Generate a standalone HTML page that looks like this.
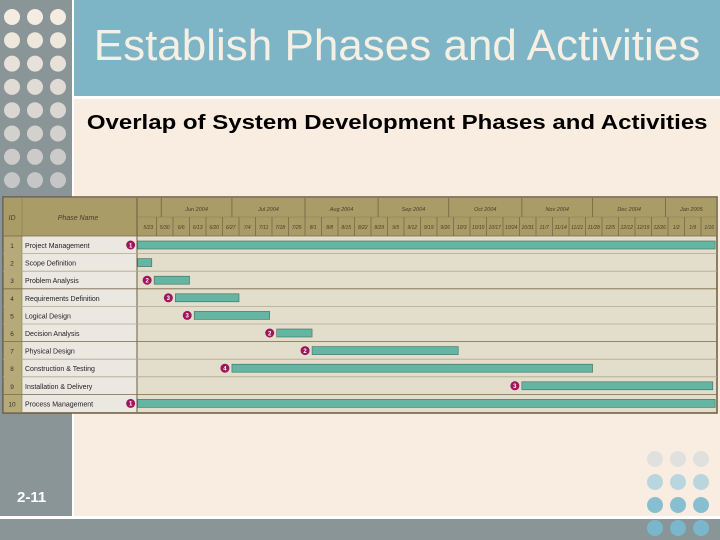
<!DOCTYPE html>
<html><head><meta charset="utf-8">
<style>
html,body{margin:0;padding:0;}
body{width:720px;height:540px;position:relative;overflow:hidden;background:#fff;font-family:"Liberation Sans",sans-serif;}
.abs{position:absolute;}
</style></head>
<body>
<div class="abs" style="left:0;top:0;width:72px;height:516px;background:#8a9598;"></div>
<div class="abs" style="left:74px;top:0;width:646px;height:96px;background:#7db4c6;"></div>
<div class="abs" style="left:74px;top:99px;width:646px;height:417px;background:#f9ece0;"></div>
<div class="abs" style="left:0;top:519px;width:720px;height:21px;background:#8a9598;"></div>
<div class="abs" style="left:74px;top:21px;width:646px;text-align:center;color:#f6efe4;font-size:44px;line-height:50px;white-space:nowrap;">Establish Phases and Activities</div>
<div class="abs" style="left:74px;top:112px;width:646px;text-align:center;color:#000;font-size:20px;font-weight:bold;white-space:nowrap;transform:scaleX(1.2);transform-origin:322px 0;">Overlap of System Development Phases and Activities</div>
<div class="abs" style="left:17px;top:489px;color:#fff;font-size:15px;font-weight:bold;">2-11</div>
<svg id="deco" class="abs" style="left:0;top:0" width="720" height="540"></svg>
<svg id="gantt" class="abs" style="left:0;top:0" width="720" height="540"></svg>
<script>
const phases=["Project Management","Scope Definition","Problem Analysis","Requirements Definition","Logical Design","Decision Analysis","Physical Design","Construction & Testing","Installation & Delivery","Process Management"];
const startDays=[-1,-1,6,15,23,58,73,39,162,-1];
const endDays=[244,5,21,42,55,73,135,192,243,244];
const markers=[1,null,2,3,3,2,2,4,3,1];
const weekLabels=["5/23","5/30","6/6","6/13","6/20","6/27","7/4","7/11","7/18","7/25","8/1","8/8","8/15","8/22","8/29","9/5","9/12","9/19","9/26","10/3","10/10","10/17","10/24","10/31","11/7","11/14","11/21","11/28","12/5","12/12","12/19","12/26","1/2","1/9","1/16"];
const monthLabels=["Jun 2004","Jul 2004","Aug 2004","Sep 2004","Oct 2004","Nov 2004","Dec 2004","Jan 2005"];
const monthStartDays=[9,39,70,101,131,162,192,223];

const NS="http://www.w3.org/2000/svg";
function mk(p,t,a){const e=document.createElementNS(NS,t);for(const k in a)e.setAttribute(k,a[k]);p.appendChild(e);return e;}
const deco=document.getElementById('deco');
for(let r=0;r<8;r++)for(let c=0;c<3;c++){
  const t=r/7;
  const col=`rgb(${Math.round(244-t*46)},${Math.round(236-t*38)},${Math.round(224-t*26)})`;
  const d=mk(deco,'circle',{cx:12+c*23,cy:17+r*23.3,r:8,fill:col});
  
  
}
const rcols=["#ebe6df","#e0e1df","#b9d6df","#88bfd0","#7bb7cc"];
for(let r=0;r<4;r++)for(let c=0;c<3;c++){
  const d=mk(deco,'circle',{cx:655+c*23,cy:459+r*23,r:8,fill:rcols[r+1]});
  
  
}
const g=document.getElementById('gantt');
const X=d=>140+d*16.5/7;
const top0=236,rowH=17.6,L=3,R=717;
mk(g,'rect',{x:L,y:197,width:R-L,height:216,fill:"#e3ddcc",stroke:"#6b5a40","stroke-width":1.5});
mk(g,'rect',{x:L+1,y:198,width:R-L-2,height:38,fill:"#a99c66"});
mk(g,'rect',{x:L+1,y:top0,width:19,height:rowH*10,fill:"#b5aa78"});
mk(g,'rect',{x:22,y:top0,width:115,height:rowH*10,fill:"#ebe8e2"});
let t=mk(g,'text',{x:12,y:220,"font-size":7,"font-style":"italic",fill:"#4a4028","text-anchor":"middle"});t.textContent="ID";
t=mk(g,'text',{x:78,y:220,"font-size":7,"font-style":"italic",fill:"#4a4028","text-anchor":"middle"});t.textContent="Phase Name";
mk(g,'line',{x1:137,y1:198,x2:137,y2:412,stroke:"#6b5a40","stroke-width":1});
mk(g,'line',{x1:22,y1:198,x2:22,y2:412,stroke:"#8a7c55","stroke-width":0.6});
mk(g,'line',{x1:137,y1:217,x2:R,y2:217,stroke:"#8a7c55","stroke-width":0.6});
monthLabels.forEach((m,i)=>{
  const x=X(monthStartDays[i]);
  mk(g,'line',{x1:x,y1:198,x2:x,y2:217,stroke:"#6b5a40","stroke-width":0.7});
  const nx=i<monthLabels.length-1?X(monthStartDays[i+1]):R;
  const tt=mk(g,'text',{x:(x+nx)/2,y:211,"font-size":5.5,"font-style":"italic",fill:"#4a4028","text-anchor":"middle"});
  tt.textContent=m;
  
  
});
weekLabels.forEach((w,i)=>{
  const x=X(i*7);
  if(i>0)mk(g,'line',{x1:x,y1:217,x2:x,y2:236,stroke:"#6b5a40","stroke-width":0.6});
  const tt=mk(g,'text',{x:x+8.2,y:229,"font-size":5,"font-style":"italic",fill:"#4a4028","text-anchor":"middle"});
  tt.textContent=w;
  
  
});
phases.forEach((p,i)=>{
  const y=top0+i*rowH;
  mk(g,'line',{x1:L,y1:y,x2:R,y2:y,stroke:(i%3==0?"#7a6a48":"#b0a890"),"stroke-width":0.8});
  let tt=mk(g,'text',{x:12,y:y+12,"font-size":6.5,fill:"#333","text-anchor":"middle"});tt.textContent=String(i+1);
  
  
  tt=mk(g,'text',{x:25,y:y+12,"font-size":7,fill:"#222"});tt.textContent=p;
  
  
  const x1=Math.max(137,X(startDays[i])),x2=Math.min(716,X(endDays[i]));
  const b=mk(g,'rect',{x:x1,y:y+5,width:x2-x1,height:8,fill:"#62b6a2",stroke:"#3f6e60","stroke-width":0.6});
  
  
  if(markers[i]!=null){
    const cx=x1-7;
    const c=mk(g,'circle',{cx:cx,cy:y+9,r:4.5,fill:"#a0145a"});
    
    
    const mt=mk(g,'text',{x:cx,y:y+11.3,"font-size":6,"font-weight":"bold",fill:"#fff","text-anchor":"middle"});
    mt.textContent=String(markers[i]);
  }
});
</script>
</body></html>
